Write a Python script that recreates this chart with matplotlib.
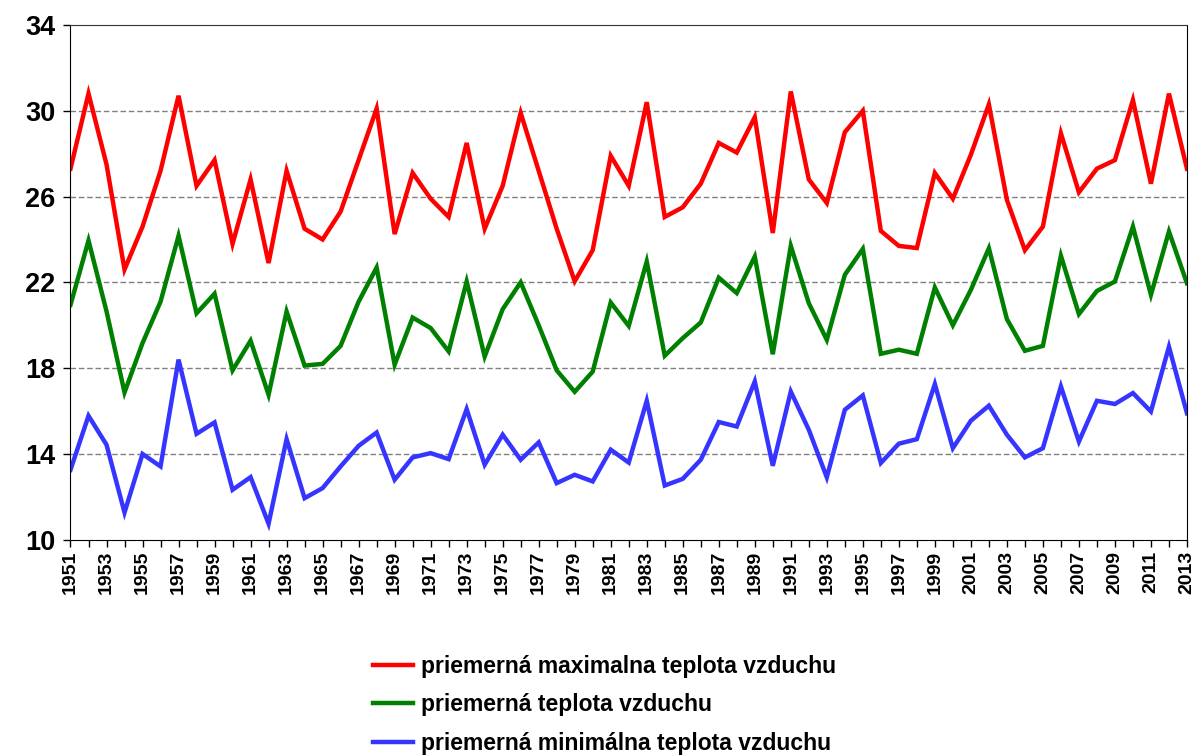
import matplotlib.pyplot as plt

years = list(range(1951, 2014))

t_max = [27.3, 30.8, 27.5, 22.6, 24.6, 27.2, 30.7, 26.5, 27.7, 23.8,
         26.8, 22.9, 27.2, 24.5, 24.0, 25.3, 27.7, 30.1, 24.25, 27.1,
         25.9, 25.05, 28.5, 24.5, 26.5, 29.9, 27.2, 24.5, 22.05, 23.5,
         27.9, 26.5, 30.4, 25.05, 25.5, 26.6, 28.5, 28.05, 29.7, 24.3,
         30.9, 26.8, 25.7, 29.0, 30.0, 24.4, 23.7, 23.6, 27.1, 25.9,
         27.95, 30.3, 25.85, 23.5, 24.6, 28.95, 26.2, 27.3, 27.7, 30.5,
         26.6, 30.8, 27.3]

t_avg = [20.95, 23.95, 20.65, 16.87, 19.17, 21.1, 24.17, 20.56, 21.47, 17.9,
         19.28, 16.76, 20.64, 18.12, 18.2, 19.04, 21.1, 22.69, 18.16, 20.36,
         19.87, 18.78, 22.04, 18.54, 20.75, 22.0, 20.0, 17.9, 16.9, 17.84,
         21.06, 19.97, 22.97, 18.58, 19.4, 20.13, 22.22, 21.5, 23.2, 18.65,
         23.7, 21.03, 19.32, 22.35, 23.56, 18.67, 18.86, 18.67, 21.76, 20.0,
         21.65, 23.59, 20.29, 18.81, 19.04, 23.24, 20.52, 21.6, 22.04, 24.6,
         21.42, 24.37, 21.96]

t_min = [13.26, 15.78, 14.43, 11.27, 14.0, 13.42, 18.4, 14.94, 15.47, 12.33,
         12.92, 10.75, 14.69, 11.94, 12.41, 13.42, 14.38, 15.0, 12.8, 13.84,
         14.04, 13.76, 16.09, 13.5, 14.9, 13.73, 14.54, 12.64, 13.03, 12.72,
         14.2, 13.6, 16.48, 12.53, 12.84, 13.73, 15.49, 15.28, 17.38, 13.45,
         16.91, 15.13, 12.91, 16.06, 16.73, 13.58, 14.48, 14.69, 17.26, 14.27,
         15.55, 16.25, 14.9, 13.84, 14.27, 17.15, 14.58, 16.48, 16.33, 16.84,
         15.98, 19.0, 15.9]

labels = ["priemerná maximalna teplota vzduchu",
          "priemerná teplota vzduchu",
          "priemerná minimálna teplota vzduchu"]

plt.rcParams['font.family'] = ['Liberation Sans', 'DejaVu Sans']

fig = plt.figure(figsize=(12.01, 7.56), dpi=100)
ax = fig.add_axes([0.0587, 0.286, 0.9296, 0.681])

ax.plot(years, t_max, color='#ff0000', lw=3.2, label=labels[0], solid_joinstyle='miter')
ax.plot(years, t_avg, color='#008000', lw=3.2, label=labels[1], solid_joinstyle='miter')
ax.plot(years, t_min, color='#3535ff', lw=3.2, label=labels[2], solid_joinstyle='miter')

ax.set_xlim(1951, 2013)
ax.set_ylim(10, 34)
ax.set_yticks(range(10, 35, 4))
ax.set_xticks(years)
ax.set_xticklabels([str(y) if (y - 1951) % 2 == 0 else '' for y in years],
                   rotation=90, fontsize=14, fontweight='bold')
ax.set_yticklabels([str(v) for v in range(10, 35, 4)], fontsize=19.5, fontweight='bold')
ax.tick_params(axis='both', direction='out', length=5, width=1, color='black')
ax.tick_params(axis='x', pad=3)
ax.tick_params(axis='y', pad=6)

for v in range(14, 31, 4):
    ax.axhline(v, color='#808080', lw=1, ls=(0, (4, 2)), zorder=0)

ax.spines['top'].set_linestyle((0, (4, 1)))
ax.spines['top'].set_color('#333333')
for s in ['left', 'bottom', 'right']:
    ax.spines[s].set_color('black')

leg = fig.legend(loc='upper left', bbox_to_anchor=(0.303, 0.146), frameon=False,
                 prop={'size': 16.5, 'weight': 'bold'}, handlelength=1.75,
                 handletextpad=0.35, labelspacing=0.68, borderaxespad=0)

fig.savefig('out.png', dpi=100)
